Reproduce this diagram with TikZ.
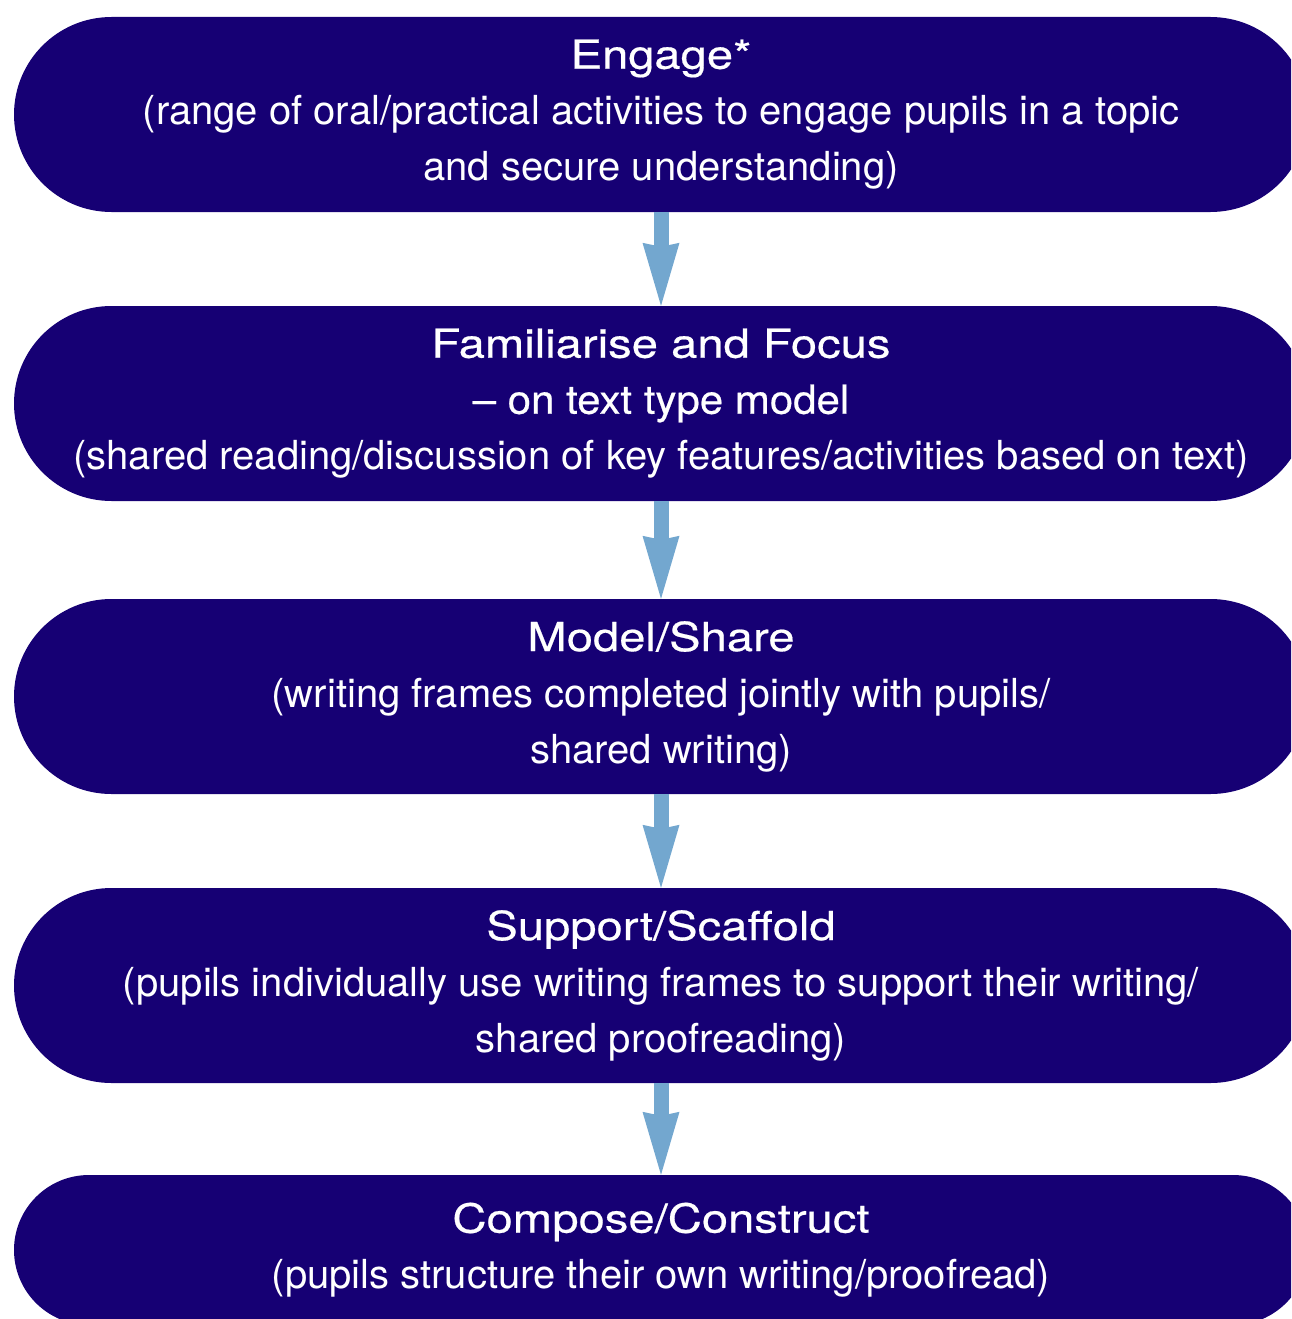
\documentclass[tikz,border=0pt]{standalone}
\usepackage{fontspec}
\setmainfont{TeX Gyre Heros}
\newfontfamily\titlefont[FakeStretch=1.18,FakeBold=0.5]{TeX Gyre Heros}
\newfontfamily\subtitlefont[FakeStretch=1.05,FakeBold=0.5]{TeX Gyre Heros}
\usetikzlibrary{arrows.meta}
\definecolor{boxblue}{RGB}{22,0,116}
\definecolor{arrowblue}{RGB}{115,167,207}
\tikzset{
  stage/.style={draw=none, fill=boxblue, text=white, align=center,
    minimum width=1294pt, minimum height=195pt, inner sep=0pt,
    rounded corners=97.5pt,
    font=\fontsize{40pt}{56pt}\selectfont},
  flow/.style={draw=arrowblue, line width=15pt,
    -{Stealth[length=63pt,width=37pt,inset=4pt,line width=0pt]}}
}
\begin{document}
\begin{tikzpicture}[x=1pt,y=-1pt]
\useasboundingbox (0,0) rectangle (1291,1319);
\clip (0,0) rectangle (1291,1319);
\node[stage] (s1) at (661,114.5) {{\titlefont Engage*}\\(range of oral/practical activities to engage pupils in a topic\\and secure understanding)};
\node[stage] (s2) at (661,403.5) {{\titlefont Familiarise and Focus}\\{\subtitlefont – on text type model}\\(shared reading/discussion of key features/activities based on text)};
\node[stage] (s3) at (661,696.5) {{\titlefont Model/Share}\\(writing frames completed jointly with pupils/\\shared writing)};
\node[stage] (s4) at (661,985.5) {{\titlefont Support/Scaffold}\\(pupils individually use writing frames to support their writing/\\shared proofreading)};
\node[stage, minimum height=150pt, rounded corners=75pt] (s5) at (661,1250) {{\titlefont Compose/Construct}\\(pupils structure their own writing/proofread)};
\draw[flow] (s1.south) -- (s2.north);
\draw[flow] (s2.south) -- (s3.north);
\draw[flow] (s3.south) -- (s4.north);
\draw[flow] (s4.south) -- (s5.north);
\end{tikzpicture}
\end{document}
